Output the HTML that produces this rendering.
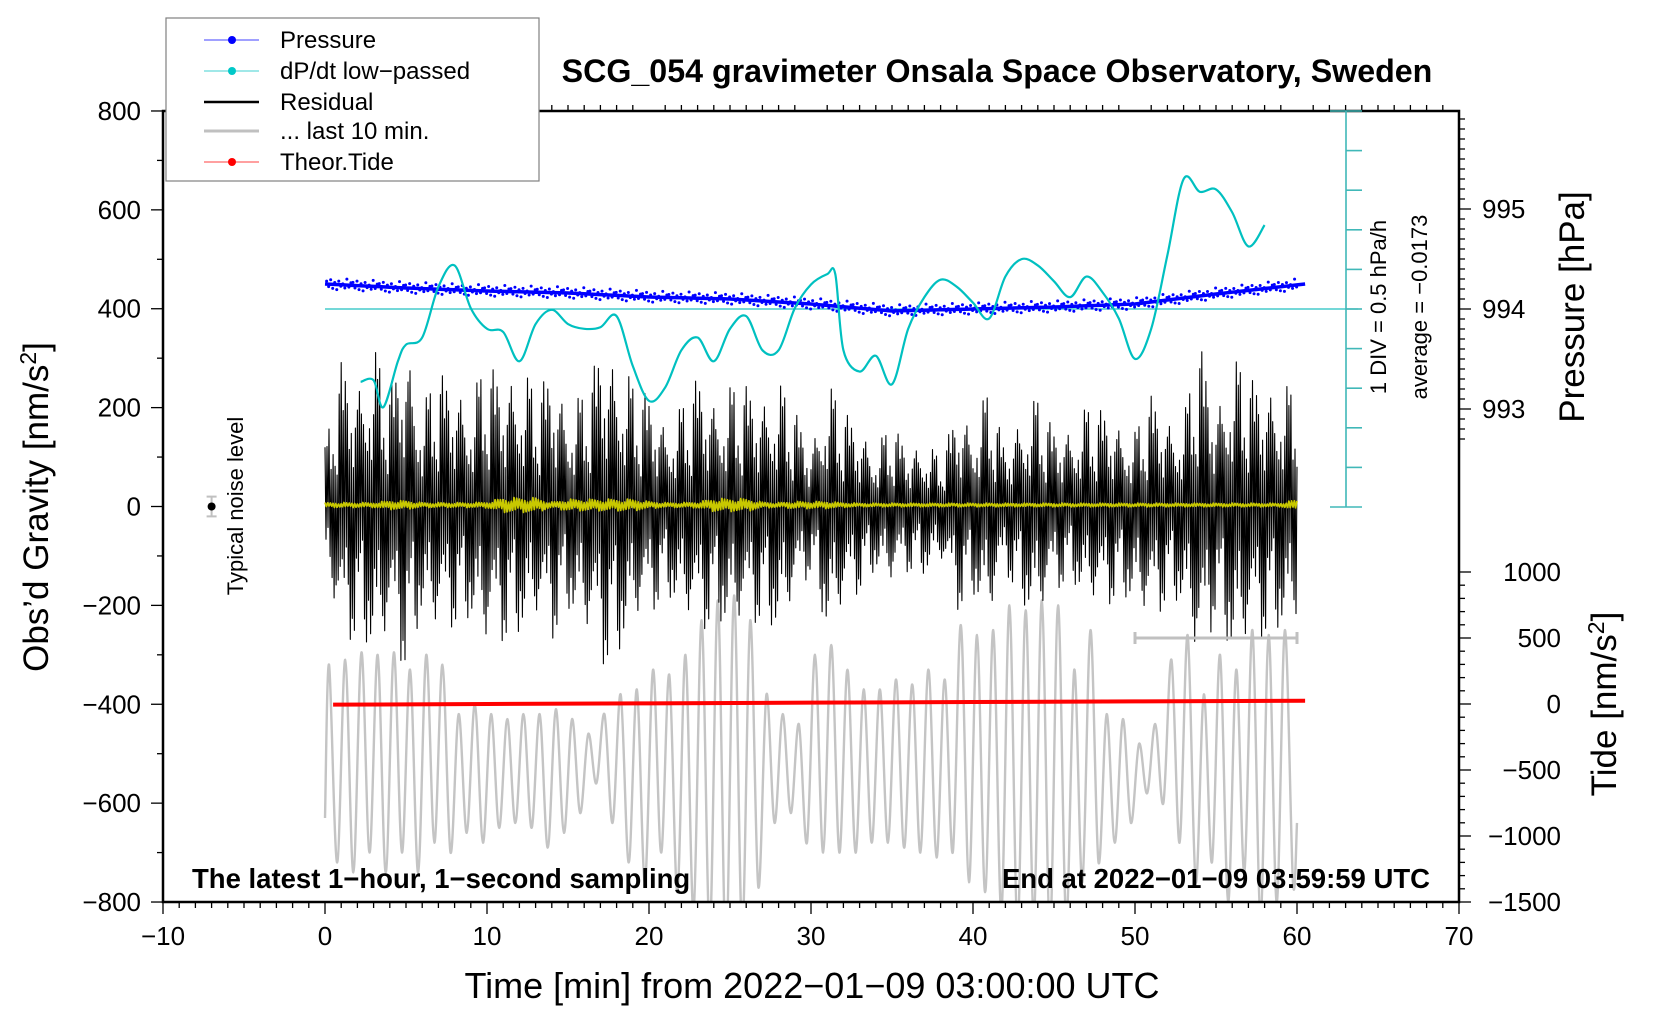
<!DOCTYPE html>
<html><head><meta charset="utf-8"><style>
html,body{margin:0;padding:0;background:#fff;}
svg{display:block;font-family:"Liberation Sans",Arial,sans-serif;}
</style></head><body>
<svg id="chart" width="1660" height="1020" viewBox="0 0 1660 1020" xmlns="http://www.w3.org/2000/svg">
<defs><clipPath id="plotclip"><rect x="163" y="111" width="1296" height="791"/></clipPath></defs>
<g id="layer-data" clip-path="url(#plotclip)"></g>
<g id="layer-axes"></g>
<text x="997" y="82" text-anchor="middle" font-size="32.2" font-weight="bold">SCG_054 gravimeter Onsala Space Observatory, Sweden</text>
<text x="192" y="888" font-size="27.5" font-weight="bold">The latest 1−hour, 1−second sampling</text>
<text x="1430" y="888" text-anchor="end" font-size="27.5" font-weight="bold">End at 2022−01−09 03:59:59 UTC</text>
<text x="812" y="998" text-anchor="middle" font-size="36">Time [min] from 2022−01−09 03:00:00 UTC</text>
<text transform="translate(48,507) rotate(-90)" text-anchor="middle" font-size="35">Obs’d Gravity [nm/s<tspan dy="-12" font-size="23">2</tspan><tspan dy="12">]</tspan></text>
<text transform="translate(1584,307) rotate(-90)" text-anchor="middle" font-size="35">Pressure [hPa]</text>
<text transform="translate(1616,704) rotate(-90)" text-anchor="middle" font-size="35">Tide [nm/s<tspan dy="-12" font-size="23">2</tspan><tspan dy="12">]</tspan></text>
<text transform="translate(243,506) rotate(-90)" text-anchor="middle" font-size="22">Typical noise level</text>
<text transform="translate(1386,307) rotate(-90)" text-anchor="middle" font-size="22">1 DIV = 0.5 hPa/h</text>
<text transform="translate(1427,307) rotate(-90)" text-anchor="middle" font-size="22">average = −0.0173</text>
<g>
<rect x="166" y="18" width="373" height="163" fill="#fff" stroke="#808080" stroke-width="1.2"/>
<g><line x1="204" y1="40" x2="259" y2="40" stroke="#4040ff" stroke-width="1"/><circle cx="232" cy="40" r="4" fill="#0000ff"/><text x="280" y="48" font-size="24">Pressure</text></g>
<g><line x1="204" y1="71" x2="259" y2="71" stroke="#40d0d0" stroke-width="1"/><circle cx="232" cy="71" r="4" fill="#00c8c8"/><text x="280" y="79" font-size="24">dP/dt low−passed</text></g>
<g><line x1="204" y1="102" x2="259" y2="102" stroke="#000" stroke-width="2.5"/><text x="280" y="110" font-size="24">Residual</text></g>
<g><line x1="204" y1="131" x2="259" y2="131" stroke="#c0c0c0" stroke-width="3"/><text x="280" y="139" font-size="24">... last 10 min.</text></g>
<g><line x1="204" y1="162" x2="259" y2="162" stroke="#ff4040" stroke-width="1"/><circle cx="232" cy="162" r="4" fill="#ff0000"/><text x="280" y="170" font-size="24">Theor.Tide</text></g>
</g>
</svg>
<script>
// ---- data ----
const minutes = Array.from({length:61},(_, i)=>i);
const residualMax = [120,300,250,320,250,340,200,280,250,220,300,260,280,240,280,200,230,330,300,250,230,170,200,270,220,240,250,220,250,200,120,250,200,160,120,170,120,130,100,200,170,240,120,190,220,160,160,200,200,170,150,230,180,180,340,200,300,270,240,250,230];
const residualMin = [-110,-280,-260,-300,-270,-330,-220,-260,-240,-230,-290,-270,-260,-230,-270,-210,-250,-320,-310,-240,-220,-180,-210,-260,-230,-250,-240,-230,-260,-190,-130,-260,-210,-170,-130,-160,-130,-140,-110,-210,-180,-230,-130,-200,-230,-170,-150,-190,-210,-180,-200,-240,-190,-200,-350,-210,-310,-280,-260,-250,-240];
const filteredAmp = [8,8,8,8,15,15,8,8,8,8,10,25,25,25,10,20,20,20,20,20,12,8,8,10,22,22,22,10,8,12,12,12,8,6,6,6,6,6,6,6,6,6,6,6,6,6,6,6,6,6,6,6,6,6,6,6,6,6,6,6,20];
const last10Peaks = [-320,-310,-295,-300,-295,-330,-300,-320,-420,-400,-420,-430,-420,-420,-410,-430,-460,-420,-380,-370,-330,-340,-300,-230,-190,-180,-230,-380,-420,-440,-300,-280,-330,-370,-370,-350,-360,-330,-350,-240,-260,-250,-200,-210,-190,-200,-330,-250,-420,-430,-480,-440,-310,-260,-380,-300,-330,-250,-260,-250];
const last10Troughs = [-720,-740,-700,-740,-700,-740,-680,-700,-660,-680,-650,-640,-650,-690,-660,-620,-560,-640,-720,-760,-700,-780,-820,-860,-900,-860,-770,-640,-620,-680,-700,-700,-700,-680,-680,-690,-700,-710,-700,-760,-780,-820,-850,-830,-860,-840,-760,-720,-680,-640,-580,-600,-680,-760,-720,-800,-740,-830,-800,-760];
const last10Start = -630, last10End = -640;
const pressureTimes = [0,5,10,15,20,25,30,35,40,45,50,55,60.5];
const pressureHPa = [994.25,994.21,994.18,994.16,994.12,994.10,994.05,993.98,994.00,994.02,994.05,994.15,994.25];
const dpdtTimes = [2.2,3,3.6,4.5,5,6,7,8,9,10,11,12,13,14,15,16,17,18,19,20,21,22,23,24,25,26,27,28,29,30,31,31.5,32,33,34,35,36,37,38,39,40,41,42,43,44,45,46,47,48,49,50,51,52,53,54,55,56,57,58];
const dpdtValues = [-0.92,-0.90,-1.24,-0.66,-0.45,-0.36,0.28,0.55,0.01,-0.25,-0.29,-0.66,-0.19,-0.01,-0.19,-0.25,-0.23,-0.09,-0.72,-1.16,-0.99,-0.52,-0.36,-0.66,-0.25,-0.09,-0.52,-0.52,0.01,0.31,0.44,0.44,-0.52,-0.79,-0.59,-0.95,-0.25,0.15,0.37,0.28,0.08,-0.12,0.41,0.63,0.55,0.35,0.15,0.41,0.21,-0.12,-0.63,-0.25,0.68,1.64,1.48,1.51,1.22,0.79,1.06];
const tideTimes = [0.5,10,20,30,40,50,60.5];
const tideValues = [-5,0,5,10,15,20,25];
const xTicks = [-10,0,10,20,30,40,50,60,70];
const yTicks = [-800,-600,-400,-200,0,200,400,600,800];
const pTicks = [993,994,995];
const tTicks = [-1500,-1000,-500,0,500,1000];
const noiseBar = {t:-7, v:0, err:20};
const tenMinBar = {t0:50, t1:60, v:-266};

// ---- scales ----
const X = m => 163 + (m + 10) * 16.2;
const Y = g => 506.5 - g * 0.4944;
const P = p => 309 - (p - 994) * 100;
const T = t => 704 - t * 0.132;
const C = v => 309 - v / 0.5 * 39.6;
const NS = 'http://www.w3.org/2000/svg';
const dataLayer = document.getElementById('layer-data');
const axesLayer = document.getElementById('layer-axes');
function mk(tag, attrs, parent){const e=document.createElementNS(NS,tag);for(const k in attrs)e.setAttribute(k,attrs[k]);parent.appendChild(e);return e;}
function lerpArr(xs, ys, x){ if(x<=xs[0])return ys[0]; for(let i=1;i<xs.length;i++){ if(x<=xs[i]){const f=(x-xs[i-1])/(xs[i]-xs[i-1]);return ys[i-1]+f*(ys[i]-ys[i-1]);} } return ys[ys.length-1]; }
function smoothPath(pts){ let d=`M${pts[0][0]},${pts[0][1]}`; for(let i=0;i<pts.length-1;i++){const p0=pts[i-1]||pts[i],p1=pts[i],p2=pts[i+1],p3=pts[i+2]||p2; d+=` C${p1[0]+(p2[0]-p0[0])/6},${p1[1]+(p2[1]-p0[1])/6} ${p2[0]-(p3[0]-p1[0])/6},${p2[1]-(p3[1]-p1[1])/6} ${p2[0]},${p2[1]}`;} return d; }

// grey last 10 min
(function(){
  const pts=[[X(0),Y(last10Start)]];
  for(let i=0;i<last10Peaks.length;i++){pts.push([X(i+0.25),Y(last10Peaks[i])]);pts.push([X(i+0.75),Y(last10Troughs[i])]);}
  pts.push([X(60),Y(last10End)]);
  const p=mk('path',{d:smoothPath(pts),fill:'none',stroke:'#c4c4c4','stroke-width':2.4},dataLayer);
  
  
})();

// residual black
(function(){
  const texture=[1,0.55,0.85,0.3,0.95,0.62,0.4,0.78,0.5,0.9,0.35,0.7,0.25,0.6,0.82,0.45,0.97,0.38,0.66,0.52,0.88,0.3,0.74,0.58,0.42];
  const spm=16, n=60*spm; let d='';
  for(let k=0;k<=n;k++){
    const m=k/spm;
    const up=k%2===0;
    const env= up? lerpArr(minutes,residualMax,m) : lerpArr(minutes,residualMin,m);
    const v=env*texture[k%texture.length];
    d+=(k?'L':'M')+X(m).toFixed(1)+','+Y(v).toFixed(1);
  }
  const p=mk('path',{d:d,fill:'none',stroke:'#000','stroke-width':1.1,'stroke-linejoin':'round'},dataLayer);
  
  
})();

// yellow filtered
(function(){
  const texture=[1,0.6,0.9,0.4,0.8,0.5,0.7];
  const spm=12, n=60*spm; let d='';
  for(let k=0;k<=n;k++){
    const m=k/spm; const s=k%2===0?1:-1;
    const v=s*lerpArr(minutes,filteredAmp,m)*texture[k%texture.length]*0.6;
    d+=(k?'L':'M')+X(m).toFixed(1)+','+Y(v+3).toFixed(1);
  }
  const p=mk('path',{d:d,fill:'none',stroke:'#c8c800','stroke-width':1.8,'stroke-linejoin':'round'}, dataLayer);
  
  
})();

// tide red
(function(){
  const pts=tideTimes.map((t,i)=>X(t)+','+T(tideValues[i])).join(' ');
  const p=mk('polyline',{points:pts,fill:'none',stroke:'#ff0000','stroke-width':4},dataLayer);
  
  
})();

// cyan zero line
(function(){
  const l=mk('line',{x1:X(0),y1:C(0),x2:1358,y2:C(0),stroke:'#20c0c0','stroke-width':1.2},dataLayer);
  
  
})();

// pressure blue
(function(){
  const g=mk('g',{},dataLayer);
  
  
  const pts=[];
  for(let m=pressureTimes[0];m<=pressureTimes[pressureTimes.length-1];m+=0.5)pts.push(X(m)+','+P(lerpArr(pressureTimes,pressureHPa,m)));
  mk('polyline',{points:pts.join(' '),fill:'none',stroke:'#0000ff','stroke-width':3.5},g);
  const jit=[0.03,-0.025,0.045,-0.04,0.02,-0.05,0.035,-0.015,0.01,-0.03,0.06,-0.02,0.025];
  for(let k=0;k<480;k++){const m=k*0.125+0.1;mk('circle',{cx:X(m),cy:P(lerpArr(pressureTimes,pressureHPa,m)+jit[k%jit.length]),r:1.5,fill:'#0000ff'},g);}
})();

// cyan dP/dt
(function(){
  const pts=dpdtTimes.map((t,i)=>[X(t),C(dpdtValues[i])]);
  const p=mk('path',{d:smoothPath(pts),fill:'none',stroke:'#00c0c0','stroke-width':2.2},dataLayer);
  
  
})();

// error bars
(function(){
  const g=mk('g',{stroke:'#c0c0c0','stroke-width':3},dataLayer);
  
  
  mk('line',{x1:X(tenMinBar.t0),y1:Y(tenMinBar.v),x2:X(tenMinBar.t1),y2:Y(tenMinBar.v)},g);
  mk('line',{x1:X(tenMinBar.t0),y1:Y(tenMinBar.v)-6,x2:X(tenMinBar.t0),y2:Y(tenMinBar.v)+6},g);
  mk('line',{x1:X(tenMinBar.t1),y1:Y(tenMinBar.v)-6,x2:X(tenMinBar.t1),y2:Y(tenMinBar.v)+6},g);
  const n=mk('g',{},dataLayer);
  
  
  const x=X(noiseBar.t);
  mk('line',{x1:x,y1:Y(noiseBar.err),x2:x,y2:Y(-noiseBar.err),stroke:'#c0c0c0','stroke-width':2},n);
  mk('line',{x1:x-5,y1:Y(noiseBar.err),x2:x+5,y2:Y(noiseBar.err),stroke:'#c0c0c0','stroke-width':2},n);
  mk('line',{x1:x-5,y1:Y(-noiseBar.err),x2:x+5,y2:Y(-noiseBar.err),stroke:'#c0c0c0','stroke-width':2},n);
  mk('circle',{cx:x,cy:Y(noiseBar.v),r:4,fill:'#000'},n);
})();

// axes
(function(){
  const A=axesLayer;
  const frame=mk('rect',{x:163,y:111,width:1296,height:791,fill:'none',stroke:'#000','stroke-width':2.5},A);
  
  
  for(let m=-10;m<=70;m++){const major=m%10===0;mk('line',{x1:X(m),y1:902,x2:X(m),y2:902+(major?12:6),stroke:'#000','stroke-width':1.3},A);mk('line',{x1:X(m),y1:111,x2:X(m),y2:111-(major?0:6),stroke:'#000','stroke-width':1.3},A);}
  xTicks.forEach(t=>{const e=mk('text',{x:X(t),y:945,'text-anchor':'middle','font-size':26},A);e.textContent=t<0?'−'+(-t):t;});
  for(let g=-800;g<=800;g+=100){mk('line',{x1:163,y1:Y(g),x2:163-(g%200===0?12:6),y2:Y(g),stroke:'#000','stroke-width':1.3},A);}
  yTicks.forEach(v=>{const e=mk('text',{x:141,y:Y(v)+9,'text-anchor':'end','font-size':26},A);e.textContent=v<0?'−'+(-v):v;});
  for(let k=0;k<=32;k++){const p=995.9-k*0.1;const y=P(p);const major=Math.abs(p-Math.round(p))<0.01;mk('line',{x1:1459,y1:y,x2:1459+(major?12:6),y2:y,stroke:'#000','stroke-width':1.3},A);}
  pTicks.forEach(v=>{const e=mk('text',{x:1482,y:P(v)+9,'font-size':26},A);e.textContent=v;});
  for(let t=-1500;t<=1000;t+=100){const major=t%500===0;mk('line',{x1:1459,y1:T(t),x2:1459+(major?12:6),y2:T(t),stroke:'#000','stroke-width':1.3},A);}
  tTicks.forEach(v=>{const e=mk('text',{x:1561,y:T(v)+9,'text-anchor':'end','font-size':26},A);e.textContent=v<0?'−'+(-v):v;});
  const cx=1346;
  const ca=mk('g',{stroke:'#40b8b8','stroke-width':1.6},A);
  
  
  mk('line',{x1:cx,y1:111,x2:cx,y2:507},ca);
  for(let k=0;k<=10;k++){const y=111+k*39.6;const end=(k===0||k===10);mk('line',{x1:end?cx-16:cx,y1:y,x2:cx+16,y2:y},ca);}
})();
</script>
</body></html>
